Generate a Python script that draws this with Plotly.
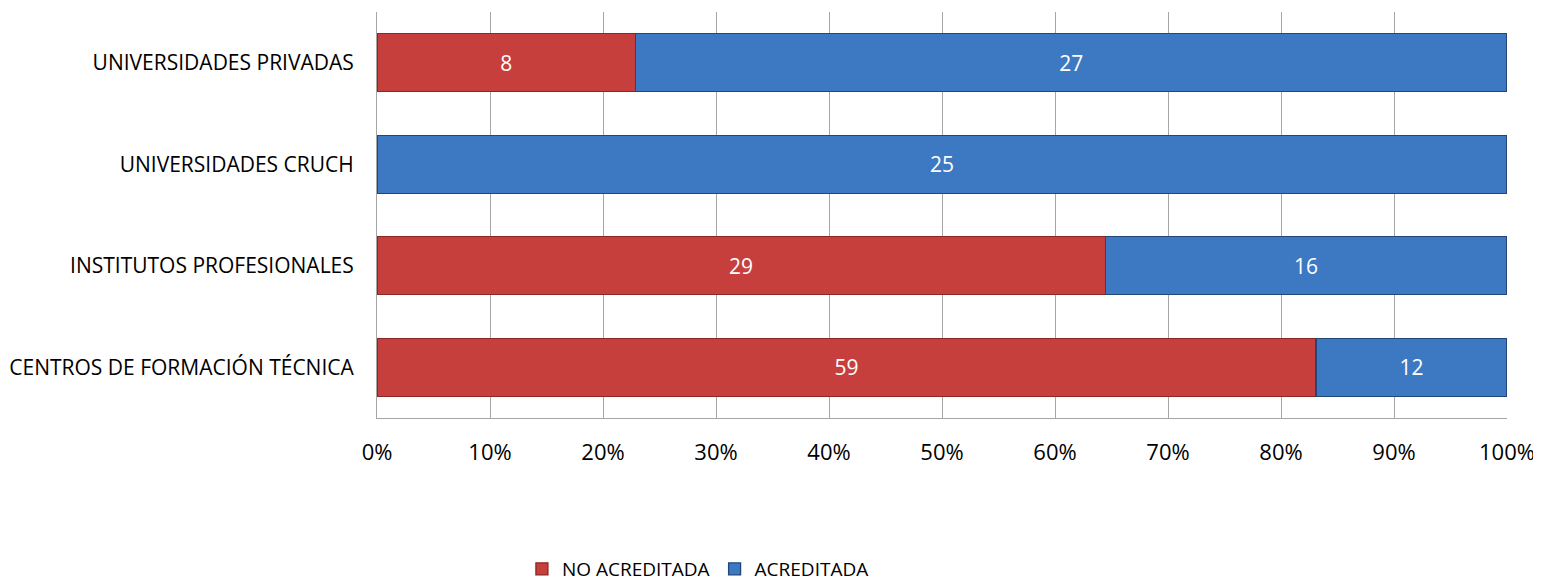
import plotly.graph_objects as go

categories = ["CENTROS DE FORMACIÓN TÉCNICA", "INSTITUTOS PROFESIONALES",
              "UNIVERSIDADES CRUCH", "UNIVERSIDADES PRIVADAS"]
no_acreditada = [59, 29, 0, 8]
acreditada = [12, 16, 25, 27]
x_ticks = [0, 10, 20, 30, 40, 50, 60, 70, 80, 90, 100]
x_tick_labels = [f"{t}%" for t in x_ticks]

FONT = "Open Sans, Noto Sans, sans-serif"

fig = go.Figure()
fig.add_trace(go.Bar(
    y=categories, x=no_acreditada, orientation="h", name="NO ACREDITADA",
    marker=dict(color="#C63F3C", line=dict(color="#8A2624", width=1.3)),
    text=[str(v) if v else "" for v in no_acreditada],
    textposition="inside", insidetextanchor="middle",
    textfont=dict(color="white", size=21, family=FONT),
))
fig.add_trace(go.Bar(
    y=categories, x=acreditada, orientation="h", name="ACREDITADA",
    marker=dict(color="#3D78C3", line=dict(color="#23467A", width=1.3)),
    text=[str(v) if v else "" for v in acreditada],
    textposition="inside", insidetextanchor="middle",
    textfont=dict(color="white", size=21, family=FONT),
))

fig.update_layout(
    barmode="stack", barnorm="percent", bargap=0.43,
    width=1533, height=578,
    margin=dict(l=369, r=34, t=4, b=168, autoexpand=False),
    paper_bgcolor="white", plot_bgcolor="white",
    font=dict(family=FONT, size=21, color="#000000"),
    showlegend=True,
    legend=dict(orientation="h", x=0.284, y=-0.372, xanchor="center", yanchor="middle",
                font=dict(size=19, family=FONT), itemwidth=30, traceorder="normal"),
    uniformtext=dict(mode="show", minsize=10),
)
fig.update_xaxes(
    range=[0, 100], tickvals=x_ticks, ticktext=x_tick_labels,
    showgrid=True, gridcolor="#A6A6A6", gridwidth=1,
    showline=True, linecolor="#A6A6A6", linewidth=1, mirror=False,
    ticks="outside", ticklen=15, tickcolor="white",
    tickfont=dict(size=22, family=FONT), zeroline=False,
    ticklabeloverflow="allow",
)
fig.update_yaxes(
    showline=True, linecolor="#A6A6A6", linewidth=1,
    ticks="outside", ticklen=18, tickcolor="white",
    tickfont=dict(size=21, family=FONT), showgrid=False,
)

fig.write_html("out.html")
